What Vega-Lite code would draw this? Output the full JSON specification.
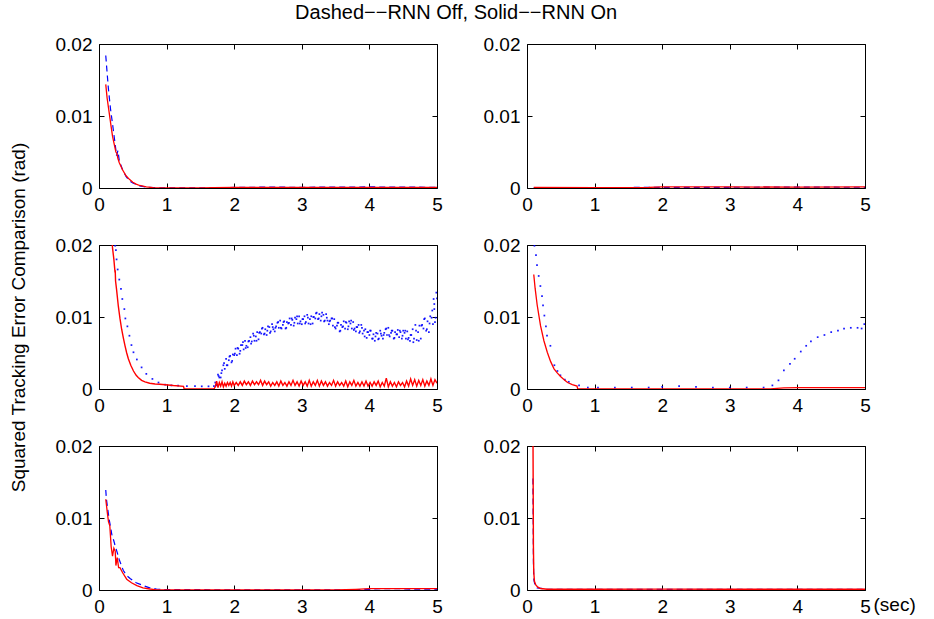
{
  "$schema": "https://vega.github.io/schema/vega-lite/v6.json",
  "background": "white",
  "padding": {"left": 8, "top": 2, "right": 5, "bottom": 3},
  "title": {"text": "Dashed−−RNN Off, Solid−−RNN On", "fontSize": 20, "font": "Liberation Sans", "fontWeight": "normal", "color": "black", "anchor": "middle", "offset": 12, "dx": -6},
  "config": {
    "view": {"stroke": "black", "strokeWidth": 1},
    "font": "Liberation Sans",
    "axis": {"grid": false, "domain": false, "tickColor": "black", "tickSize": -5, "labelColor": "black", "labelFontSize": 19, "labelFont": "Liberation Sans", "labelPadding": 12, "labelFlush": false, "labelOverlap": false, "labelBound": false, "titleFont": "Liberation Sans", "titleFontWeight": "normal", "titleColor": "black", "titleFontSize": 19}
  },
  "datasets": {
    "d1r": [{"x":0.1,"y":0.0144},{"x":0.12,"y":0.0125},{"x":0.15,"y":0.0105},{"x":0.18,"y":0.0085},{"x":0.2,"y":0.0072},{"x":0.22,"y":0.0063},{"x":0.25,"y":0.005},{"x":0.265,"y":0.0048},{"x":0.28,"y":0.0041},{"x":0.3,"y":0.0035},{"x":0.35,"y":0.0025},{"x":0.4,"y":0.0017},{"x":0.45,"y":0.0012},{"x":0.5,"y":0.0008},{"x":0.55,"y":0.00055},{"x":0.6,"y":0.00035},{"x":0.7,"y":0.00015},{"x":0.8,"y":0.00006},{"x":1.0,"y":0.00002},{"x":1.5,"y":0.00002},{"x":1.7,"y":0.00005},{"x":2.0,"y":0.0001},{"x":2.5,"y":0.00008},{"x":3.0,"y":0.0001},{"x":3.5,"y":0.00008},{"x":4.0,"y":0.0001},{"x":4.5,"y":0.00009},{"x":5.0,"y":0.0001}],
    "d1b": [{"x":0.1,"y":0.0184},{"x":0.12,"y":0.016},{"x":0.14,"y":0.0137},{"x":0.17,"y":0.011},{"x":0.21,"y":0.0082},{"x":0.24,"y":0.006},{"x":0.26,"y":0.0045},{"x":0.28,"y":0.0052},{"x":0.3,"y":0.0038},{"x":0.35,"y":0.0025},{"x":0.4,"y":0.0016},{"x":0.45,"y":0.001},{"x":0.5,"y":0.0007},{"x":0.6,"y":0.0003},{"x":0.7,"y":0.00012},{"x":0.8,"y":0.00005},{"x":1.0,"y":0.00002},{"x":1.7,"y":0.00002},{"x":2.0,"y":0.00008},{"x":2.5,"y":0.00012},{"x":3.0,"y":0.0001},{"x":3.5,"y":0.00012},{"x":4.0,"y":0.00015},{"x":4.5,"y":0.00012},{"x":5.0,"y":0.0001}],
    "d2r": [{"x":0.1,"y":0.0001},{"x":1.0,"y":0.00005},{"x":1.8,"y":0.00008},{"x":2.0,"y":0.00015},{"x":3.0,"y":0.00015},{"x":4.0,"y":0.00012},{"x":5.0,"y":0.00015}],
    "d2b": [{"x":0.1,"y":0.00005},{"x":2.0,"y":0.00008},{"x":3.0,"y":0.0001},{"x":4.0,"y":0.00012},{"x":5.0,"y":0.0001}],
    "d3r": [{"x":0.19,"y":0.021},{"x":0.2,"y":0.0196},{"x":0.22,"y":0.018},{"x":0.237,"y":0.0162},{"x":0.24,"y":0.0165},{"x":0.245,"y":0.015},{"x":0.26,"y":0.0138},{"x":0.286,"y":0.0115},{"x":0.31,"y":0.0098},{"x":0.335,"y":0.0083},{"x":0.36,"y":0.0071},{"x":0.385,"y":0.006},{"x":0.41,"y":0.005},{"x":0.434,"y":0.0042},{"x":0.47,"y":0.0033},{"x":0.51,"y":0.0025},{"x":0.55,"y":0.0019},{"x":0.58,"y":0.0016},{"x":0.63,"y":0.0012},{"x":0.68,"y":0.001},{"x":0.75,"y":0.0008},{"x":0.83,"y":0.0007},{"x":0.9,"y":0.00065},{"x":0.98,"y":0.0006},{"x":1.1,"y":0.00048},{"x":1.25,"y":0.00037},{"x":1.26,"y":0.0},{"x":1.7,"y":0.0},{"x":1.72,"y":0.0003},{"x":1.74,"y":0.0011},{"x":1.76,"y":0.0002},{"x":1.78,"y":0.0009},{"x":1.8,"y":0.0004},{"x":1.82,"y":0.001},{"x":1.84,"y":0.0003},{"x":1.86,"y":0.0008},{"x":1.88,"y":0.0004},{"x":1.9,"y":0.0009},{"x":1.92,"y":0.0005},{"x":1.94,"y":0.0009},{"x":1.96,"y":0.0004},{"x":1.98,"y":0.001},{"x":2.0,"y":0.0005},{"x":2.03,"y":0.0009},{"x":2.06,"y":0.0005},{"x":2.09,"y":0.001},{"x":2.12,"y":0.0005},{"x":2.15,"y":0.0011},{"x":2.18,"y":0.0006},{"x":2.21,"y":0.001},{"x":2.24,"y":0.0005},{"x":2.27,"y":0.0011},{"x":2.3,"y":0.0006},{"x":2.33,"y":0.001},{"x":2.36,"y":0.0006},{"x":2.39,"y":0.0012},{"x":2.42,"y":0.0005},{"x":2.45,"y":0.0011},{"x":2.48,"y":0.0006},{"x":2.51,"y":0.001},{"x":2.54,"y":0.0004},{"x":2.57,"y":0.0009},{"x":2.6,"y":0.0005},{"x":2.63,"y":0.001},{"x":2.66,"y":0.0004},{"x":2.69,"y":0.0011},{"x":2.72,"y":0.0005},{"x":2.75,"y":0.0009},{"x":2.78,"y":0.0004},{"x":2.81,"y":0.001},{"x":2.84,"y":0.0005},{"x":2.87,"y":0.0012},{"x":2.9,"y":0.0005},{"x":2.93,"y":0.001},{"x":2.96,"y":0.0004},{"x":2.99,"y":0.0011},{"x":3.02,"y":0.0005},{"x":3.05,"y":0.001},{"x":3.08,"y":0.0004},{"x":3.11,"y":0.0012},{"x":3.14,"y":0.0004},{"x":3.17,"y":0.001},{"x":3.2,"y":0.0005},{"x":3.23,"y":0.0012},{"x":3.26,"y":0.0004},{"x":3.29,"y":0.0011},{"x":3.32,"y":0.0005},{"x":3.35,"y":0.001},{"x":3.38,"y":0.0004},{"x":3.41,"y":0.0009},{"x":3.44,"y":0.0005},{"x":3.47,"y":0.0012},{"x":3.5,"y":0.0004},{"x":3.53,"y":0.001},{"x":3.56,"y":0.0005},{"x":3.59,"y":0.0009},{"x":3.62,"y":0.0004},{"x":3.65,"y":0.0011},{"x":3.68,"y":0.0003},{"x":3.71,"y":0.001},{"x":3.74,"y":0.0005},{"x":3.77,"y":0.0012},{"x":3.8,"y":0.0004},{"x":3.83,"y":0.0009},{"x":3.86,"y":0.0004},{"x":3.89,"y":0.001},{"x":3.92,"y":0.0004},{"x":3.95,"y":0.0011},{"x":3.98,"y":0.0004},{"x":4.01,"y":0.0009},{"x":4.04,"y":0.0004},{"x":4.07,"y":0.001},{"x":4.1,"y":0.0005},{"x":4.13,"y":0.0011},{"x":4.16,"y":0.0003},{"x":4.19,"y":0.0009},{"x":4.22,"y":0.0004},{"x":4.25,"y":0.0015},{"x":4.28,"y":0.0003},{"x":4.31,"y":0.001},{"x":4.34,"y":0.0004},{"x":4.37,"y":0.0009},{"x":4.4,"y":0.0003},{"x":4.43,"y":0.001},{"x":4.46,"y":0.0005},{"x":4.49,"y":0.0009},{"x":4.52,"y":0.0003},{"x":4.55,"y":0.0011},{"x":4.58,"y":0.0004},{"x":4.61,"y":0.0014},{"x":4.64,"y":0.0005},{"x":4.67,"y":0.0013},{"x":4.7,"y":0.0004},{"x":4.73,"y":0.0012},{"x":4.76,"y":0.0005},{"x":4.79,"y":0.0013},{"x":4.82,"y":0.0004},{"x":4.85,"y":0.0011},{"x":4.88,"y":0.0005},{"x":4.91,"y":0.0014},{"x":4.94,"y":0.0005},{"x":4.97,"y":0.0013},{"x":5.0,"y":0.0008}],
    "d3b": [{"x":0.24,"y":0.0199},{"x":0.25,"y":0.0193},{"x":0.26,"y":0.018},{"x":0.276,"y":0.0166},{"x":0.3,"y":0.0152},{"x":0.325,"y":0.0139},{"x":0.345,"y":0.0125},{"x":0.375,"y":0.0111},{"x":0.39,"y":0.0098},{"x":0.42,"y":0.0087},{"x":0.45,"y":0.0074},{"x":0.48,"y":0.0061},{"x":0.51,"y":0.0051},{"x":0.56,"y":0.0041},{"x":0.63,"y":0.003},{"x":0.7,"y":0.0021},{"x":0.79,"y":0.0014},{"x":0.88,"y":0.0009},{"x":0.98,"y":0.0006},{"x":1.07,"y":0.0005},{"x":1.17,"y":0.00046},{"x":1.3,"y":0.0004},{"x":1.42,"y":0.0004},{"x":1.52,"y":0.00037},{"x":1.62,"y":0.00037},{"x":1.7,"y":0.0004},
      {"x":1.72,"y":0.0009},{"x":1.74,"y":0.0006},{"x":1.76,"y":0.002},{"x":1.78,"y":0.0016},{"x":1.8,"y":0.0016},{"x":1.82,"y":0.0026},{"x":1.84,"y":0.0033},{"x":1.86,"y":0.0028},{"x":1.88,"y":0.0042},{"x":1.9,"y":0.0033},{"x":1.92,"y":0.004},{"x":1.94,"y":0.0046},{"x":1.96,"y":0.0037},{"x":1.98,"y":0.0048},{"x":2.0,"y":0.0047},{"x":2.02,"y":0.0056},{"x":2.04,"y":0.0047},{"x":2.06,"y":0.0056},{"x":2.08,"y":0.0049},{"x":2.1,"y":0.0061},{"x":2.12,"y":0.0061},{"x":2.14,"y":0.0055},{"x":2.16,"y":0.0067},{"x":2.18,"y":0.006},{"x":2.2,"y":0.0058},{"x":2.22,"y":0.0067},{"x":2.24,"y":0.0072},{"x":2.26,"y":0.0066},{"x":2.28,"y":0.0077},{"x":2.3,"y":0.0067},{"x":2.32,"y":0.0073},{"x":2.34,"y":0.0079},{"x":2.36,"y":0.0069},{"x":2.38,"y":0.0079},{"x":2.4,"y":0.0077},{"x":2.42,"y":0.0085},{"x":2.44,"y":0.0076},{"x":2.46,"y":0.0083},{"x":2.48,"y":0.0075},{"x":2.5,"y":0.0087},{"x":2.52,"y":0.0086},{"x":2.54,"y":0.008},{"x":2.56,"y":0.009},{"x":2.58,"y":0.0083},{"x":2.6,"y":0.008},{"x":2.62,"y":0.0087},{"x":2.64,"y":0.0092},{"x":2.66,"y":0.0085},{"x":2.68,"y":0.0095},{"x":2.7,"y":0.0084},{"x":2.72,"y":0.0089},{"x":2.74,"y":0.0094},{"x":2.76,"y":0.0084},{"x":2.78,"y":0.0093},{"x":2.8,"y":0.0091},{"x":2.82,"y":0.0098},{"x":2.84,"y":0.0089},{"x":2.86,"y":0.0096},{"x":2.88,"y":0.0088},{"x":2.9,"y":0.0099},{"x":2.92,"y":0.0097},{"x":2.94,"y":0.0091},{"x":2.96,"y":0.0101},{"x":2.98,"y":0.0094},{"x":3.0,"y":0.009},{"x":3.02,"y":0.0097},{"x":3.04,"y":0.0101},{"x":3.06,"y":0.0093},{"x":3.08,"y":0.0103},{"x":3.1,"y":0.0091},{"x":3.12,"y":0.0097},{"x":3.14,"y":0.0101},{"x":3.16,"y":0.0091},{"x":3.18,"y":0.01},{"x":3.2,"y":0.0098},{"x":3.22,"y":0.0106},{"x":3.24,"y":0.0097},{"x":3.26,"y":0.0104},{"x":3.28,"y":0.0095},{"x":3.3,"y":0.0106},{"x":3.32,"y":0.0103},{"x":3.34,"y":0.0095},{"x":3.36,"y":0.0104},{"x":3.38,"y":0.0095},{"x":3.4,"y":0.009},{"x":3.42,"y":0.0095},{"x":3.44,"y":0.0098},{"x":3.46,"y":0.0088},{"x":3.48,"y":0.0097},{"x":3.5,"y":0.0084},{"x":3.52,"y":0.0088},{"x":3.54,"y":0.0092},{"x":3.56,"y":0.008},{"x":3.58,"y":0.0089},{"x":3.6,"y":0.0086},{"x":3.62,"y":0.0094},{"x":3.64,"y":0.0084},{"x":3.66,"y":0.0092},{"x":3.68,"y":0.0083},{"x":3.7,"y":0.0094},{"x":3.72,"y":0.0091},{"x":3.74,"y":0.0084},{"x":3.76,"y":0.0093},{"x":3.78,"y":0.0084},{"x":3.8,"y":0.008},{"x":3.82,"y":0.0086},{"x":3.84,"y":0.0089},{"x":3.86,"y":0.008},{"x":3.88,"y":0.0089},{"x":3.9,"y":0.0077},{"x":3.92,"y":0.0081},{"x":3.94,"y":0.0083},{"x":3.96,"y":0.0071},{"x":3.98,"y":0.0079},{"x":4.0,"y":0.0075},{"x":4.02,"y":0.0081},{"x":4.04,"y":0.007},{"x":4.06,"y":0.0076},{"x":4.08,"y":0.0067},{"x":4.1,"y":0.0078},{"x":4.12,"y":0.0077},{"x":4.14,"y":0.007},{"x":4.16,"y":0.0081},{"x":4.18,"y":0.0074},{"x":4.2,"y":0.007},{"x":4.22,"y":0.0078},{"x":4.24,"y":0.0083},{"x":4.26,"y":0.0075},{"x":4.28,"y":0.0085},{"x":4.3,"y":0.0073},{"x":4.32,"y":0.0078},{"x":4.34,"y":0.0081},{"x":4.36,"y":0.007},{"x":4.38,"y":0.0079},{"x":4.4,"y":0.0076},{"x":4.42,"y":0.0082},{"x":4.44,"y":0.0072},{"x":4.46,"y":0.0079},{"x":4.48,"y":0.007},{"x":4.5,"y":0.0081},{"x":4.52,"y":0.0078},{"x":4.54,"y":0.007},{"x":4.56,"y":0.008},{"x":4.58,"y":0.0071},{"x":4.6,"y":0.0067},{"x":4.62,"y":0.0075},{"x":4.64,"y":0.0083},{"x":4.66,"y":0.007},{"x":4.68,"y":0.0089},{"x":4.7,"y":0.0068},{"x":4.72,"y":0.0079},{"x":4.74,"y":0.0088},{"x":4.76,"y":0.007},{"x":4.78,"y":0.0089},{"x":4.8,"y":0.0084},{"x":4.82,"y":0.0098},{"x":4.84,"y":0.0081},{"x":4.86,"y":0.0094},{"x":4.88,"y":0.0079},{"x":4.9,"y":0.0101},{"x":4.92,"y":0.0099},{"x":4.94,"y":0.009},{"x":4.96,"y":0.0111},{"x":4.98,"y":0.0099},{"x":5.0,"y":0.0126},
      {"x":1.73,"y":0.0005},{"x":1.77,"y":0.0018},{"x":1.81,"y":0.0022},{"x":1.85,"y":0.0036},{"x":1.89,"y":0.0033},{"x":1.93,"y":0.0045},{"x":1.97,"y":0.0039},{"x":2.01,"y":0.0049},{"x":2.05,"y":0.0057},{"x":2.09,"y":0.0053},{"x":2.13,"y":0.0065},{"x":2.17,"y":0.0057},{"x":2.21,"y":0.0066},{"x":2.25,"y":0.0063},{"x":2.29,"y":0.0074},{"x":2.33,"y":0.0067},{"x":2.37,"y":0.0078},{"x":2.41,"y":0.0084},{"x":2.45,"y":0.0077},{"x":2.49,"y":0.0081},{"x":2.53,"y":0.0078},{"x":2.57,"y":0.0086},{"x":2.61,"y":0.0085},{"x":2.65,"y":0.0093},{"x":2.69,"y":0.0085},{"x":2.73,"y":0.0093},{"x":2.77,"y":0.0085},{"x":2.81,"y":0.0092},{"x":2.85,"y":0.0098},{"x":2.89,"y":0.0092},{"x":2.93,"y":0.0101},{"x":2.97,"y":0.0091},{"x":3.01,"y":0.0097},{"x":3.05,"y":0.0091},{"x":3.09,"y":0.0099},{"x":3.13,"y":0.009},{"x":3.17,"y":0.01},{"x":3.21,"y":0.0105},{"x":3.25,"y":0.0098},{"x":3.29,"y":0.0101},{"x":3.33,"y":0.0094},{"x":3.37,"y":0.0099},{"x":3.41,"y":0.0094},{"x":3.45,"y":0.0098},{"x":3.49,"y":0.0086},{"x":3.53,"y":0.0092},{"x":3.57,"y":0.0081},{"x":3.61,"y":0.0087},{"x":3.65,"y":0.0093},{"x":3.69,"y":0.0087},{"x":3.73,"y":0.0095},{"x":3.77,"y":0.0082},{"x":3.81,"y":0.0086},{"x":3.85,"y":0.0078},{"x":3.89,"y":0.0085},{"x":3.93,"y":0.0073},{"x":3.97,"y":0.0079},{"x":4.01,"y":0.0081},{"x":4.05,"y":0.007},{"x":4.09,"y":0.0073},{"x":4.13,"y":0.0069},{"x":4.17,"y":0.0077},{"x":4.21,"y":0.0075},{"x":4.25,"y":0.0084},{"x":4.29,"y":0.0075},{"x":4.33,"y":0.0081},{"x":4.37,"y":0.0071},{"x":4.41,"y":0.0076},{"x":4.45,"y":0.0081},{"x":4.49,"y":0.0074},{"x":4.53,"y":0.0081},{"x":4.57,"y":0.0069},{"x":4.61,"y":0.0075},{"x":4.65,"y":0.0065},{"x":4.69,"y":0.0081},{"x":4.73,"y":0.0067},{"x":4.77,"y":0.0088},{"x":4.81,"y":0.0097},{"x":4.85,"y":0.0083},{"x":4.89,"y":0.0091},{"x":4.93,"y":0.0109},{"x":4.97,"y":0.0093},{"x":4.95,"y":0.0125},{"x":4.99,"y":0.0134},{"x":4.96,"y":0.0118}],
    "d4r": [{"x":0.1,"y":0.0159},{"x":0.12,"y":0.014},{"x":0.15,"y":0.0117},{"x":0.2,"y":0.0088},{"x":0.25,"y":0.0067},{"x":0.3,"y":0.0051},{"x":0.35,"y":0.0038},{"x":0.4,"y":0.0028},{"x":0.45,"y":0.0022},{"x":0.5,"y":0.0017},{"x":0.55,"y":0.0013},{"x":0.6,"y":0.0009},{"x":0.67,"y":0.0006},{"x":0.74,"y":0.0004},{"x":0.75,"y":0.0},{"x":3.6,"y":0.0},{"x":3.7,"y":0.0001},{"x":3.8,"y":0.00015},{"x":4.0,"y":0.0002},{"x":4.5,"y":0.0002},{"x":5.0,"y":0.0002}],
    "d4b": [{"x":0.11,"y":0.0199},{"x":0.133,"y":0.0186},{"x":0.148,"y":0.0172},{"x":0.173,"y":0.0157},{"x":0.198,"y":0.0143},{"x":0.222,"y":0.0129},{"x":0.237,"y":0.0116},{"x":0.257,"y":0.0102},{"x":0.28,"y":0.0087},{"x":0.296,"y":0.0074},{"x":0.346,"y":0.006},{"x":0.405,"y":0.0033},{"x":0.45,"y":0.0025},{"x":0.494,"y":0.0019},{"x":0.56,"y":0.0013},{"x":0.618,"y":0.001},{"x":0.77,"y":0.0005},{"x":0.9,"y":0.0002},{"x":1.05,"y":0.0002},{"x":1.3,"y":0.0002},{"x":1.55,"y":0.0002},{"x":1.8,"y":0.0002},{"x":2.0,"y":0.0003},{"x":2.25,"y":0.0004},{"x":2.5,"y":0.0003},{"x":2.75,"y":0.0002},{"x":3.0,"y":0.0002},{"x":3.25,"y":0.0002},{"x":3.5,"y":0.0002},{"x":3.63,"y":0.0005},{"x":3.72,"y":0.0012},{"x":3.8,"y":0.0026},{"x":3.89,"y":0.0035},{"x":3.96,"y":0.0042},{"x":4.05,"y":0.0052},{"x":4.13,"y":0.006},{"x":4.2,"y":0.0066},{"x":4.3,"y":0.0072},{"x":4.4,"y":0.0075},{"x":4.5,"y":0.0079},{"x":4.6,"y":0.0081},{"x":4.69,"y":0.0084},{"x":4.79,"y":0.0085},{"x":4.89,"y":0.0085},{"x":4.95,"y":0.0084},{"x":4.99,"y":0.009}],
    "d5r": [{"x":0.1,"y":0.0126},{"x":0.12,"y":0.011},{"x":0.14,"y":0.0095},{"x":0.16,"y":0.0089},{"x":0.18,"y":0.006},{"x":0.2,"y":0.0047},{"x":0.22,"y":0.0058},{"x":0.24,"y":0.0054},{"x":0.25,"y":0.0034},{"x":0.27,"y":0.0045},{"x":0.29,"y":0.0031},{"x":0.31,"y":0.0031},{"x":0.35,"y":0.0024},{"x":0.41,"y":0.0015},{"x":0.48,"y":0.001},{"x":0.56,"y":0.0006},{"x":0.65,"y":0.0003},{"x":0.75,"y":0.00014},{"x":0.85,"y":0.00003},{"x":1.0,"y":0.0},{"x":3.0,"y":0.0},{"x":3.5,"y":0.00003},{"x":3.8,"y":0.0001},{"x":4.0,"y":0.00018},{"x":4.5,"y":0.0002},{"x":5.0,"y":0.0002}],
    "d5b": [{"x":0.1,"y":0.0139},{"x":0.11,"y":0.0126},{"x":0.13,"y":0.0112},{"x":0.15,"y":0.0098},{"x":0.17,"y":0.0088},{"x":0.19,"y":0.0077},{"x":0.22,"y":0.0068},{"x":0.24,"y":0.0061},{"x":0.27,"y":0.0052},{"x":0.3,"y":0.0042},{"x":0.36,"y":0.0027},{"x":0.41,"y":0.002},{"x":0.46,"y":0.0016},{"x":0.55,"y":0.001},{"x":0.66,"y":0.0006},{"x":0.75,"y":0.0003},{"x":0.85,"y":0.00014},{"x":1.0,"y":0.00005},{"x":2.0,"y":0.00003},{"x":3.0,"y":0.00002},{"x":3.7,"y":0.00003},{"x":4.0,"y":0.0001},{"x":4.2,"y":0.0002},{"x":4.4,"y":0.0002},{"x":4.6,"y":0.00012},{"x":5.0,"y":0.0001}],
    "d6r": [{"x":0.085,"y":0.03},{"x":0.095,"y":0.006},{"x":0.1,"y":0.0025},{"x":0.11,"y":0.0012},{"x":0.13,"y":0.0007},{"x":0.16,"y":0.0004},{"x":0.2,"y":0.0002},{"x":0.3,"y":0.0001},{"x":1.0,"y":0.0001},{"x":2.0,"y":0.00012},{"x":3.0,"y":0.0001},{"x":4.0,"y":0.0001},{"x":5.0,"y":0.0001}],
    "d6b": [{"x":0.088,"y":0.0155},{"x":0.095,"y":0.004},{"x":0.1,"y":0.0015},{"x":0.12,"y":0.0006},{"x":0.15,"y":0.0003},{"x":0.3,"y":0.0001},{"x":5.0,"y":0.0001}]
  },
  "columns": 2,
  "spacing": {"row": 57, "column": 90},
  "bounds": "flush",
  "concat": [
    {
      "width": 338, "height": 144,
      "resolve": {"axis": {"x": "independent", "y": "independent"}},
      "layer": [
        {"data": {"name": "d1b"}, "mark": {"type": "line", "color": "#0000ff", "strokeWidth": 1.2, "strokeDash": [6, 4], "clip": true},
         "encoding": {"x": {"field": "x", "type": "quantitative", "scale": {"domain": [0, 5], "nice": false}, "axis": {"orient": "bottom", "values": [0,1,2,3,4,5], "format": "~g", "title": null}},
                      "y": {"field": "y", "type": "quantitative", "scale": {"domain": [0, 0.02], "nice": false}, "axis": {"orient": "left", "values": [0,0.01,0.02], "format": "~g", "title": null}}}},
        {"data": {"name": "d1r"}, "mark": {"type": "line", "color": "#ff0000", "strokeWidth": 1.3, "clip": true},
         "encoding": {"x": {"field": "x", "type": "quantitative", "scale": {"domain": [0, 5], "nice": false}, "axis": {"orient": "top", "values": [0,1,2,3,4,5], "labels": false, "title": null}},
                      "y": {"field": "y", "type": "quantitative", "scale": {"domain": [0, 0.02], "nice": false}, "axis": {"orient": "right", "values": [0,0.01,0.02], "labels": false, "title": null}}}}
      ]
    },
    {
      "width": 338, "height": 144,
      "resolve": {"axis": {"x": "independent", "y": "independent"}},
      "layer": [
        {"data": {"name": "d2b"}, "mark": {"type": "line", "color": "#0000ff", "strokeWidth": 1.2, "strokeDash": [6, 4], "clip": true},
         "encoding": {"x": {"field": "x", "type": "quantitative", "scale": {"domain": [0, 5], "nice": false}, "axis": {"orient": "bottom", "values": [0,1,2,3,4,5], "format": "~g", "title": null}},
                      "y": {"field": "y", "type": "quantitative", "scale": {"domain": [0, 0.02], "nice": false}, "axis": {"orient": "left", "values": [0,0.01,0.02], "format": "~g", "title": null}}}},
        {"data": {"name": "d2r"}, "mark": {"type": "line", "color": "#ff0000", "strokeWidth": 1.3, "clip": true},
         "encoding": {"x": {"field": "x", "type": "quantitative", "scale": {"domain": [0, 5], "nice": false}, "axis": {"orient": "top", "values": [0,1,2,3,4,5], "labels": false, "title": null}},
                      "y": {"field": "y", "type": "quantitative", "scale": {"domain": [0, 0.02], "nice": false}, "axis": {"orient": "right", "values": [0,0.01,0.02], "labels": false, "title": null}}}}
      ]
    },
    {
      "width": 338, "height": 144,
      "resolve": {"axis": {"x": "independent", "y": "independent"}},
      "layer": [
        {"data": {"name": "d3b"}, "mark": {"type": "point", "shape": "square", "filled": true, "size": 3, "color": "#0000ff", "opacity": 0.9, "clip": true},
         "encoding": {"x": {"field": "x", "type": "quantitative", "scale": {"domain": [0, 5], "nice": false}, "axis": {"orient": "bottom", "values": [0,1,2,3,4,5], "format": "~g", "title": null}},
                      "y": {"field": "y", "type": "quantitative", "scale": {"domain": [0, 0.02], "nice": false}, "axis": {"orient": "left", "values": [0,0.01,0.02], "format": "~g", "title": "Squared Tracking Error Comparison (rad)", "titleX": -81, "titleY": 72, "titleBaseline": "middle", "titleAlign": "center", "titleAngle": -90}}}},
        {"data": {"name": "d3r"}, "mark": {"type": "line", "color": "#ff0000", "strokeWidth": 1.4, "clip": true},
         "encoding": {"x": {"field": "x", "type": "quantitative", "scale": {"domain": [0, 5], "nice": false}, "axis": {"orient": "top", "values": [0,1,2,3,4,5], "labels": false, "title": null}},
                      "y": {"field": "y", "type": "quantitative", "scale": {"domain": [0, 0.02], "nice": false}, "axis": {"orient": "right", "values": [0,0.01,0.02], "labels": false, "title": null}}}}
      ]
    },
    {
      "width": 338, "height": 144,
      "resolve": {"axis": {"x": "independent", "y": "independent"}},
      "layer": [
        {"data": {"name": "d4b"}, "mark": {"type": "point", "shape": "square", "filled": true, "size": 3, "color": "#0000ff", "opacity": 0.9, "clip": true},
         "encoding": {"x": {"field": "x", "type": "quantitative", "scale": {"domain": [0, 5], "nice": false}, "axis": {"orient": "bottom", "values": [0,1,2,3,4,5], "format": "~g", "title": null}},
                      "y": {"field": "y", "type": "quantitative", "scale": {"domain": [0, 0.02], "nice": false}, "axis": {"orient": "left", "values": [0,0.01,0.02], "format": "~g", "title": null}}}},
        {"data": {"name": "d4r"}, "mark": {"type": "line", "color": "#ff0000", "strokeWidth": 1.3, "clip": true},
         "encoding": {"x": {"field": "x", "type": "quantitative", "scale": {"domain": [0, 5], "nice": false}, "axis": {"orient": "top", "values": [0,1,2,3,4,5], "labels": false, "title": null}},
                      "y": {"field": "y", "type": "quantitative", "scale": {"domain": [0, 0.02], "nice": false}, "axis": {"orient": "right", "values": [0,0.01,0.02], "labels": false, "title": null}}}}
      ]
    },
    {
      "width": 338, "height": 144,
      "resolve": {"axis": {"x": "independent", "y": "independent"}},
      "layer": [
        {"data": {"name": "d5b"}, "mark": {"type": "line", "color": "#0000ff", "strokeWidth": 1.2, "strokeDash": [6, 4], "clip": true},
         "encoding": {"x": {"field": "x", "type": "quantitative", "scale": {"domain": [0, 5], "nice": false}, "axis": {"orient": "bottom", "values": [0,1,2,3,4,5], "format": "~g", "title": null}},
                      "y": {"field": "y", "type": "quantitative", "scale": {"domain": [0, 0.02], "nice": false}, "axis": {"orient": "left", "values": [0,0.01,0.02], "format": "~g", "title": null}}}},
        {"data": {"name": "d5r"}, "mark": {"type": "line", "color": "#ff0000", "strokeWidth": 1.3, "clip": true},
         "encoding": {"x": {"field": "x", "type": "quantitative", "scale": {"domain": [0, 5], "nice": false}, "axis": {"orient": "top", "values": [0,1,2,3,4,5], "labels": false, "title": null}},
                      "y": {"field": "y", "type": "quantitative", "scale": {"domain": [0, 0.02], "nice": false}, "axis": {"orient": "right", "values": [0,0.01,0.02], "labels": false, "title": null}}}}
      ]
    },
    {
      "width": 338, "height": 144,
      "resolve": {"axis": {"x": "independent", "y": "independent"}},
      "layer": [
        {"data": {"name": "d6b"}, "mark": {"type": "line", "color": "#0000ff", "strokeWidth": 1.2, "strokeDash": [6, 4], "clip": true},
         "encoding": {"x": {"field": "x", "type": "quantitative", "scale": {"domain": [0, 5], "nice": false}, "axis": {"orient": "bottom", "values": [0,1,2,3,4,5], "format": "~g", "title": "(sec)", "titleX": 346, "titleY": 14, "titleAlign": "left", "titleBaseline": "middle"}},
                      "y": {"field": "y", "type": "quantitative", "scale": {"domain": [0, 0.02], "nice": false}, "axis": {"orient": "left", "values": [0,0.01,0.02], "format": "~g", "title": null}}}},
        {"data": {"name": "d6r"}, "mark": {"type": "line", "color": "#ff0000", "strokeWidth": 1.4, "clip": true},
         "encoding": {"x": {"field": "x", "type": "quantitative", "scale": {"domain": [0, 5], "nice": false}, "axis": {"orient": "top", "values": [0,1,2,3,4,5], "labels": false, "title": null}},
                      "y": {"field": "y", "type": "quantitative", "scale": {"domain": [0, 0.02], "nice": false}, "axis": {"orient": "right", "values": [0,0.01,0.02], "labels": false, "title": null}}}}
      ]
    }
  ]
}
